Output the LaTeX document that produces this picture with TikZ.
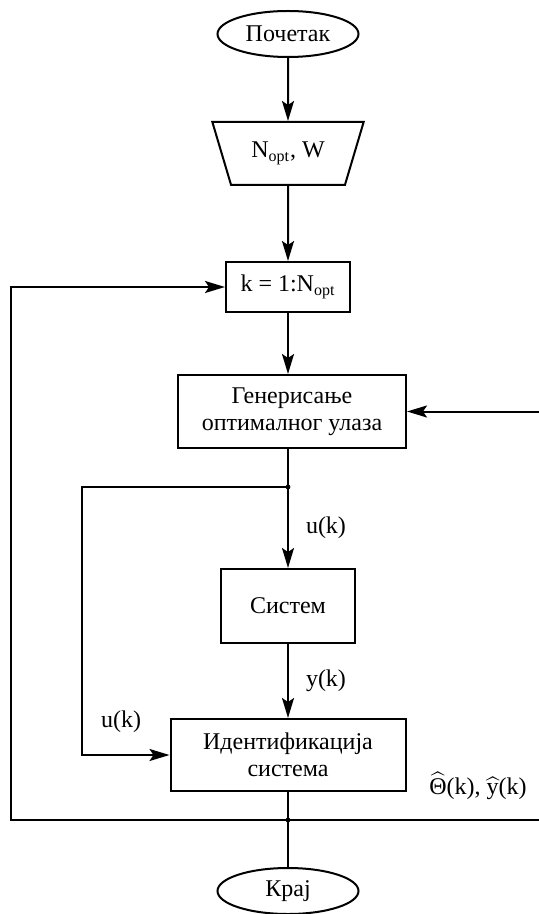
\documentclass[tikz,border=0pt]{standalone}
\usepackage{fontspec}
\setmainfont{Liberation Serif}
\usepackage{amsmath}
\usetikzlibrary{shapes.geometric, arrows.meta}

\begin{document}
\begin{tikzpicture}[x=0.5pt, y=-0.5pt, line width=1pt,
  every node/.style={font=\fontsize{12}{13.5}\selectfont},
  blok/.style={draw, rectangle, align=center, inner sep=0pt},
  terminal/.style={draw, ellipse, inner sep=0pt, minimum width=70.5pt, minimum height=23pt},
  ulaz/.style={draw, trapezium, shape border rotate=180, trapezium left angle=62, trapezium right angle=62, trapezium stretches=true, minimum width=76pt, minimum height=31.5pt, inner sep=0pt},
  strelica/.style={-{Stealth[length=10pt, width=6pt, inset=2pt]}},
  oznaka/.style={right, inner sep=0pt, xshift=8.5pt}
]
  \useasboundingbox (0,0) rectangle (539,914);

  % Blokovi
  \node[terminal] (pocetak) at (288,34) {Почетак};
  \node[ulaz] (ulaz) at (288,153.5) {N\textsubscript{opt}, W};
  \node[blok, minimum width=62pt, minimum height=25pt] (petlja) at (288,287) {k = 1:N\textsubscript{opt}};
  \node[blok, minimum width=114pt, minimum height=36.5pt] (gen) at (292,411.5) {Генерисање\\оптималног улаза};
  \node[blok, minimum width=67pt, minimum height=37pt] (sistem) at (288,606) {Систем};
  \node[blok, minimum width=117.5pt, minimum height=36pt] (ident) at (288,755) {Идентификација\\система};
  \node[terminal] (kraj) at (288,891) {Крај};

  % Tacke grananja
  \coordinate (grana1) at (288,487);
  \coordinate (grana2) at (288,820);
  \coordinate (levo1) at (82,487);
  \coordinate (levo2) at (11,820);
  \coordinate (desno) at (545,820);

  % Veze
  \draw[strelica] (pocetak) -- (ulaz);
  \draw[strelica] (ulaz) -- (petlja);
  \draw[strelica] (petlja) -- (petlja |- gen.north);
  \draw (grana1 |- gen.south) -- (grana1);
  \draw[strelica] (grana1) -- node[oznaka] {u(k)} (sistem);
  \draw[strelica] (grana1) -- (levo1) |- (ident.west);
  \draw[strelica] (sistem) -- node[oznaka] {y(k)} (ident);
  \draw (ident) -- (grana2);
  \draw (grana2) -- (kraj);
  \draw[strelica] (grana2) -- (levo2) |- (petlja.west);
  \draw[strelica] (grana2) -- (desno) |- (gen.east);

  % Oznake
  \node (uk) at (121,722) {u(k)};
  \node (theta) at (478,786) {$\widehat{\text{Θ}}$(k), $\widehat{\text{y}}$(k)};

  \fill (grana1) circle[radius=1.2pt];
  \fill (grana2) circle[radius=1.2pt];
\end{tikzpicture}
\end{document}
